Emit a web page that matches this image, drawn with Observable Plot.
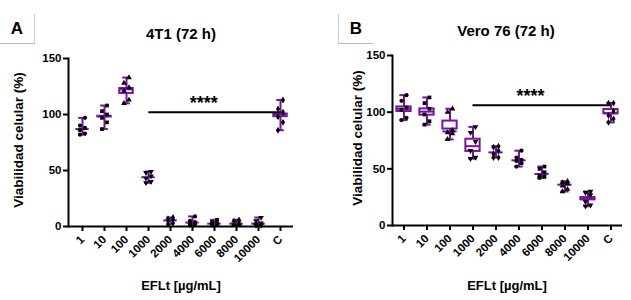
<!DOCTYPE html>
<html><head><meta charset="utf-8">
<script src="https://cdn.jsdelivr.net/npm/d3@7"></script>
<script src="https://cdn.jsdelivr.net/npm/@observablehq/plot@0.6"></script>
<style>
body{margin:0;background:#fff;font-family:"Liberation Sans",Arial,sans-serif;}
#fig{position:relative;width:631px;height:300px;overflow:hidden;background:#fff;}
.abs{position:absolute;font-weight:bold;color:#000;white-space:nowrap;line-height:1;}
.panel{position:absolute;top:0;}
.tag{position:absolute;font-weight:bold;font-size:17px;display:flex;align-items:center;justify-content:center;box-sizing:border-box;}
.ylab{transform:translate(-50%,-50%) rotate(-90deg);}
.ctr{transform:translate(-50%,-50%);}
</style></head><body><div id="fig"></div>
<script>
// ---------- data ----------
const categories = ["1","10","100","1000","2000","4000","6000","8000","10000","C"];
const yTicks = [0, 50, 100, 150];
const shapeCycle = ["circle","square","triangle","triangle-down","diamond"];

const titleA = "4T1 (72 h)";
const titleB = "Vero 76 (72 h)";
const yLabel = "Viabilidad celular (%)";
const xLabel = "EFLt [\u00b5g/mL]";
const sigText = "****";

// panel A (4T1), viability % per replicate
const a1     = [97, 90, 88, 86, 83, 82];
const a10    = [108, 103, 100, 97, 93, 87];
const a100   = [133, 128, 124, 121, 113, 110];
const a1000  = [49, 48, 45, 43, 40, 39];
const a2000  = [8, 7, 6, 5, 3, 2];
const a4000  = [9, 5, 4, 3, 2, 1];
const a6000  = [6, 4, 3, 2, 2, 1];
const a8000  = [6, 5, 3, 2, 2, 1];
const a10000 = [8, 5, 3, 2, 1, 1];
const aC     = [113, 105, 102, 98, 93, 86];
const sigA = {from: "1000", to: "10000", mid: "4000", y: 102};

// panel B (Vero 76)
const b1     = [115, 110, 104, 102, 95, 93];
const b10    = [113, 108, 103, 98, 92, 89];
const b100   = [103, 100, 84, 82, 81, 76];
const b1000  = [87, 82, 74, 66, 60, 59];
const b2000  = [70, 69, 66, 63, 60, 60];
const b4000  = [66, 60, 58, 57, 55, 52];
const b6000  = [52, 50, 47, 44, 43, 42];
const b8000  = [39, 38, 37, 35, 32, 30];
const b10000 = [30, 29, 27, 21, 18, 17];
const bC     = [108, 108, 101, 97, 94, 91];
const sigB = {from: "1000", to: "10000", mid: "4000", y: 106};

const valuesA = [a1, a10, a100, a1000, a2000, a4000, a6000, a8000, a10000, aC];
const valuesB = [b1, b10, b100, b1000, b2000, b4000, b6000, b8000, b10000, bC];

// ---------- drawing ----------
const purple = "#7a10a6";
const FONT = "'Liberation Sans', Arial, sans-serif";

function panel(values, sig, opt) {
  const pts = categories.flatMap((c, ci) =>
    d3.sort(values[ci]).map((v, i) => {
      const sh = shapeCycle[ci % 5];
      return {cat: c, v, i, symbol: sh === "triangle-down" ? "triangle" : sh, rot: sh === "triangle-down" ? 180 : 0};
    }));
  const stats = categories.map((c, ci) => {
    const s = d3.sort(values[ci]);
    return {cat: c, min: s[0], q1: d3.quantile(s, 0.25), med: d3.median(s), q3: d3.quantile(s, 0.75), max: s[s.length - 1]};
  });
  const inner = opt.width - opt.marginLeft - opt.marginRight;
  const step = inner / categories.length;
  const dotOpts = (parity, dx) => ({
    filter: d => d.i % 2 === parity, x: "cat", y: "v", symbol: "symbol", rotate: "rot",
    fill: "black", stroke: "none", r: 2.1, dx
  });
  return Plot.plot({
    width: opt.width, height: 300,
    marginTop: opt.marginTop, marginBottom: opt.marginBottom,
    marginLeft: opt.marginLeft, marginRight: opt.marginRight,
    style: {fontFamily: FONT, fontWeight: "bold", fontSize: "11.5px", color: "black", background: "white", overflow: "visible"},
    x: {type: "band", domain: categories, padding: 0, label: null},
    y: {domain: [0, 150], label: null},
    symbol: {type: "identity"},
    marks: [
      Plot.ruleX(stats, {x: "cat", y1: "min", y2: "max", stroke: purple, strokeWidth: 2}),
      Plot.tickY(stats, {x: "cat", y: "min", stroke: purple, strokeWidth: 2, inset: step * 0.32}),
      Plot.tickY(stats, {x: "cat", y: "max", stroke: purple, strokeWidth: 2, inset: step * 0.32}),
      Plot.barY(stats, {x: "cat", y1: "q1", y2: "q3", fill: "white", stroke: purple, strokeWidth: 2, inset: step * 0.19}),
      Plot.tickY(stats, {x: "cat", y: "med", stroke: purple, strokeWidth: 2, inset: step * 0.19}),
      Plot.dot(pts, dotOpts(0, -2.5)),
      Plot.dot(pts, dotOpts(1, 2.5)),
      Plot.ruleY([sig], {y: "y", x1: "from", x2: "to", dx: step / 2, stroke: "black", strokeWidth: 2}),
      Plot.text([sig], {x: "mid", y: "y", text: () => sigText, dx: step / 2, dy: -9, fontSize: 18, fontWeight: "bold", letterSpacing: "3px", fill: "black"}),
      Plot.axisY({ticks: yTicks, tickSize: 5, tickPadding: 2, strokeWidth: 2, label: null, fontSize: 11.5}),
      Plot.axisX({tickRotate: -45, tickSize: 5, tickPadding: 6, strokeWidth: 2, label: null, fontSize: 11.5}),
      Plot.frame({anchor: "left", strokeWidth: 2}),
      Plot.ruleY([0], {strokeWidth: 2})
    ]
  });
}

const fig = document.getElementById("fig");
function add(el, left) { el.classList.add("panel"); el.style.left = left + "px"; fig.appendChild(el); }
add(panel(valuesA, sigA, {width: 315, marginTop: 58, marginBottom: 74, marginLeft: 68, marginRight: 22}), 0);
add(panel(valuesB, sigB, {width: 316, marginTop: 55, marginBottom: 75, marginLeft: 77, marginRight: 9}), 315);

function label(text, cls, x, y, size) {
  const d = document.createElement("div");
  d.className = "abs " + cls;
  d.textContent = text;
  d.style.left = x + "px"; d.style.top = y + "px";
  if (size) d.style.fontSize = size + "px";
  fig.appendChild(d);
}
label(titleA, "ctr", 181, 33, 15);
label(titleB, "ctr", 506, 30, 15);
label(xLabel, "ctr", 181, 285, 13);
label(xLabel, "ctr", 507, 285, 13);
label(yLabel, "ylab", 19, 140, 13.5);
label(yLabel, "ylab", 358, 138, 13.5);

function tag(text, left, borders) {
  const d = document.createElement("div");
  d.className = "tag";
  d.textContent = text;
  Object.assign(d.style, {left: left + "px", top: "14px", width: "35px", height: "30px"});
  Object.assign(d.style, borders);
  fig.appendChild(d);
}
tag("A", 0, {borderRight: "1px solid #d0d0d0", borderBottom: "1px solid #b8b8b8"});
tag("B", 338, {borderLeft: "1px solid #d0d0d0", borderBottom: "1px solid #b8b8b8"});
</script></body></html>
